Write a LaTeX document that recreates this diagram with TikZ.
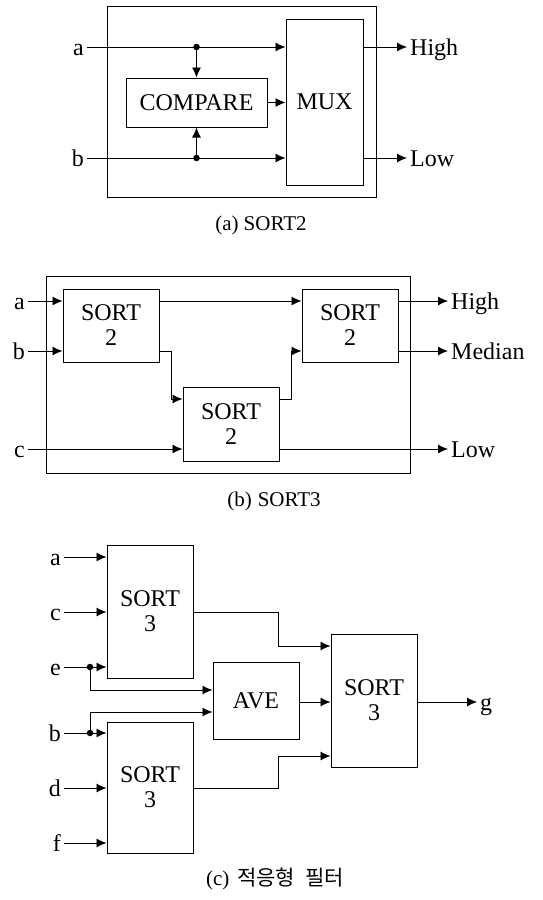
\documentclass[tikz,border=0pt]{standalone}
\usepackage{fontspec}
\setmainfont{Liberation Serif}
\newfontfamily\krfont{Noto Sans CJK KR}
\usetikzlibrary{arrows.meta}
\tikzset{
blk/.style={draw, line width=1pt, inner sep=0pt, align=center, font=\fontsize{24}{25}\selectfont},
lbl/.style={inner sep=3pt, text height=16pt, text depth=0pt, font=\fontsize{24}{25}\selectfont},
sig/.style={line width=0.9pt, -{Latex[length=10pt,width=9pt]}},
wire/.style={line width=0.9pt},
jdot/.style={circle, fill, inner sep=0pt, minimum size=6.5pt},
capt/.style={font=\fontsize{21}{24}\selectfont}
}
\begin{document}
\begin{tikzpicture}[x=1pt,y=-1pt]
\useasboundingbox (0,0) rectangle (542,900);
% (a) SORT2
\draw[line width=1pt] (107,6) rectangle (376,197);
\node[blk, minimum width=77pt, minimum height=166pt] (mux) at (324.5,102) {MUX};
\node[blk, minimum width=141pt, minimum height=49pt] (cmp) at (196.5,102.5) {COMPARE};
\node[lbl, anchor=east] (ina) at (87,47) {a};
\node[lbl, anchor=east] (inb) at (87,158) {b};
\node[lbl, anchor=west] (hi) at (407,47) {High};
\node[lbl, anchor=west] (lo) at (407,158) {Low};
\node[jdot] (ja) at (cmp.north |- ina.east) {};
\node[jdot] (jb) at (cmp.south |- inb.east) {};
\draw[sig] (ina.east) -- (ina.east -| mux.west);
\draw[sig] (inb.east) -- (inb.east -| mux.west);
\draw[sig] (ja) -- (cmp.north);
\draw[sig] (jb) -- (cmp.south);
\draw[sig] (cmp.east) -- (cmp.east -| mux.west);
\draw[sig] (hi.west -| mux.east) -- (hi.west);
\draw[sig] (lo.west -| mux.east) -- (lo.west);
\node[capt] (capa) at (261,225) {(a)\hspace{5pt}SORT2};
% (b) SORT3
\draw[line width=1pt] (46,276) rectangle (410,473);
\node[blk, minimum width=96pt, minimum height=73pt] (s1) at (111,325.5) {SORT\\2};
\node[blk, minimum width=96pt, minimum height=74pt] (s2) at (231,424) {SORT\\2};
\node[blk, minimum width=96pt, minimum height=73pt] (s3) at (350,325.5) {SORT\\2};
\node[lbl, anchor=east] (ba) at (28,301) {a};
\node[lbl, anchor=east] (bb) at (28,351) {b};
\node[lbl, anchor=east] (bc) at (28,449) {c};
\node[lbl, anchor=west] (bhi) at (448,301) {High};
\node[lbl, anchor=west] (bmed) at (448,351) {Median};
\node[lbl, anchor=west] (blo) at (448,449) {Low};
\draw[sig] (ba.east) -- (ba.east -| s1.west);
\draw[sig] (bb.east) -- (bb.east -| s1.west);
\draw[sig] (bc.east) -- (bc.east -| s2.west);
\draw[sig] (ba.east -| s1.east) -- (ba.east -| s3.west);
\draw[sig] (s1.east |- bb.east) -- (171,351) -- (171,399) -- (s2.west |- 0,399);
\draw[sig] (s2.east |- 0,399) -- (291,399) -- (291,351) -- (s3.west |- bb.east);
\draw[sig] (bhi.west -| s3.east) -- (bhi.west);
\draw[sig] (bmed.west -| s3.east) -- (bmed.west);
\draw[sig] (blo.west -| s2.east) -- (blo.west);
\node[capt] (capb) at (274,501) {(b)\hspace{6pt}SORT3};
% (c) adaptive filter
\node[blk, minimum width=86pt, minimum height=133pt] (t1) at (150,611.5) {SORT\\3};
\node[blk, minimum width=86pt, minimum height=131pt] (t2) at (150,787.5) {SORT\\3};
\node[blk, minimum width=86pt, minimum height=77pt] (ave) at (256,700.5) {AVE};
\node[blk, minimum width=86pt, minimum height=133pt] (t3) at (374,700.5) {SORT\\3};
\node[lbl, anchor=east] (ca) at (64,557) {a};
\node[lbl, anchor=east] (cc) at (64,612) {c};
\node[lbl, anchor=east] (ce) at (64,667) {e};
\node[lbl, anchor=east] (cb) at (64,733) {b};
\node[lbl, anchor=east] (cd) at (64,788) {d};
\node[lbl, anchor=east] (cf) at (64,843) {f};
\node[lbl, anchor=west] (cg) at (477,702) {g};
\node[jdot] (je) at (90,667) {};
\node[jdot] (jbb) at (90,733) {};
\foreach \i in {ca,cc,ce} \draw[sig] (\i.east) -- (\i.east -| t1.west);
\foreach \i in {cb,cd,cf} \draw[sig] (\i.east) -- (\i.east -| t2.west);
\draw[sig] (je) -- (90,690) -- (ave.west |- 0,690);
\draw[sig] (jbb) -- (90,712) -- (ave.west |- 0,712);
\draw[sig] (t1.east |- cc.east) -- (278,612) -- (278,646) -- (t3.west |- 0,646);
\draw[sig] (ave.east |- cg.west) -- (t3.west |- cg.west);
\draw[sig] (t2.east |- cd.east) -- (278,788) -- (278,756) -- (t3.west |- 0,756);
\draw[sig] (t3.east |- cg.west) -- (cg.west);
\node[capt] (capc) at (275,879) {(c)\hspace{8pt}{\krfont\fontsize{21}{24}\selectfont 적응형\hspace{10pt}필터}};
\end{tikzpicture}
\end{document}
